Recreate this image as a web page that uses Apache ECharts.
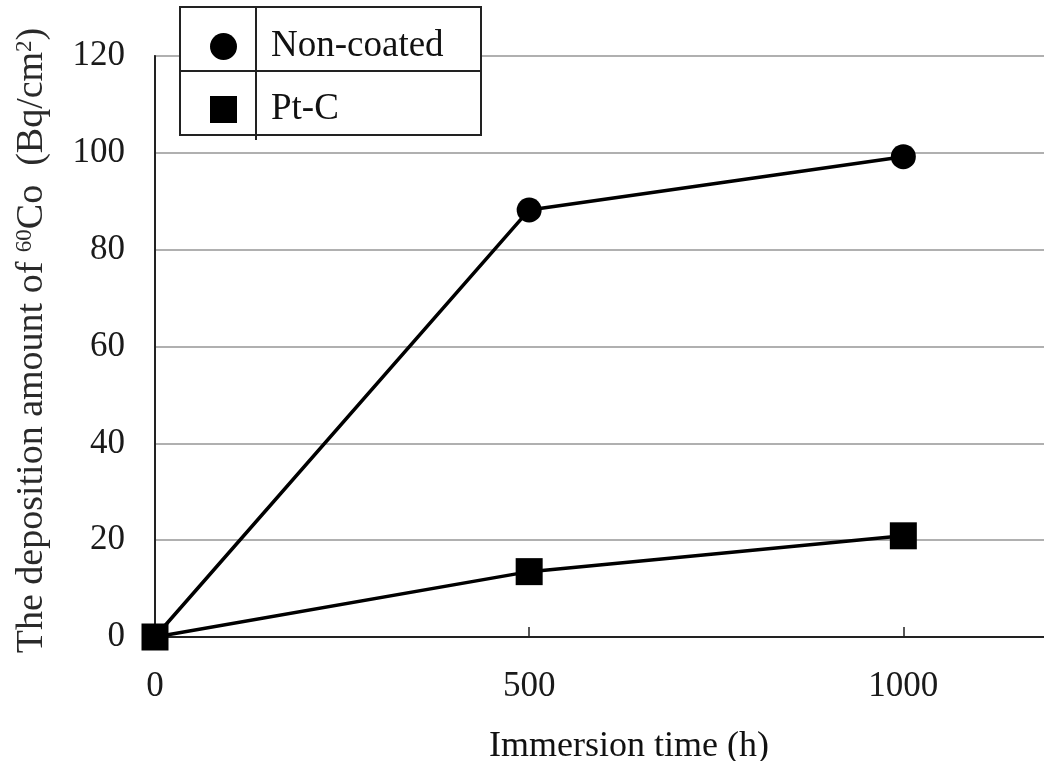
<!DOCTYPE html>
<html>
<head>
<meta charset="utf-8">
<script src="https://cdn.jsdelivr.net/npm/echarts@6/dist/echarts.min.js"></script>
<style>html,body{margin:0;padding:0;background:#fff}#c{width:1044px;height:761px}</style>
</head>
<body>
<div id="c"></div>
<script>
const times = [0, 500, 1000];
const nonCoated = [0, 88.2, 99.2];
const ptC = [0, 13.5, 20.9];
const seriesNames = ['Non-coated', 'Pt-C'];
const xTitle = 'Immersion time (h)';
const yTitle = 'The deposition amount of {sup|60}Co  (Bq/cm{sup|2})';

const font = '"Liberation Serif", "Times New Roman", serif';
const chart = echarts.init(document.getElementById('c'));
const pair = (xs, ys) => xs.map((x, i) => [x, ys[i]]);

chart.setOption({
  animation: false,
  backgroundColor: '#fff',
  grid: { left: 155, top: 56, width: 898, height: 581, show: true, borderColor: '#222', borderWidth: 1.5,
          backgroundColor: 'transparent', containLabel: false, outerBoundsMode: 'none' },
  legend: {
    left: 205, top: 23, orient: 'vertical', itemWidth: 27, itemHeight: 27, itemGap: 26,
    data: [{ name: seriesNames[0], icon: 'circle' }, { name: seriesNames[1], icon: 'rect' }],
    textStyle: { fontFamily: font, fontSize: 37, color: '#111', padding: [0, 0, 0, 29] },
    itemStyle: { color: '#000' }, z: 20
  },
  xAxis: {
    type: 'value', min: 0, max: 1200, interval: 500,
    name: xTitle, nameLocation: 'middle', nameGap: 92,
    nameTextStyle: { fontFamily: font, fontSize: 36, color: '#111', padding: [0, 0, 0, 50] },
    axisLine: { show: true, lineStyle: { color: '#222', width: 2 } },
    axisTick: { show: true, inside: true, length: 10, lineStyle: { color: '#222', width: 1.5 } },
    axisLabel: { fontFamily: font, fontSize: 35, color: '#1a1a1a', margin: 32, showMaxLabel: false,
                 formatter: v => String(v) },
    splitLine: { show: false }
  },
  yAxis: {
    type: 'value', min: 0, max: 120, interval: 20,
    name: yTitle, nameLocation: 'middle', nameGap: 103, nameRotate: 90,
    nameTextStyle: { fontFamily: font, fontSize: 38, color: '#2a2a2a', padding: [0, 0, 0, 12],
      rich: { sup: { fontFamily: font, fontSize: 23, color: '#2a2a2a', padding: [0, 0, 16, 0] } } },
    axisLine: { show: true, lineStyle: { color: '#222', width: 2 } },
    axisTick: { show: false },
    axisLabel: { fontFamily: font, fontSize: 35, color: '#1a1a1a', margin: 30 },
    splitLine: { show: true, lineStyle: { color: '#b0b0b0', width: 2 } }
  },
  graphic: [
    { type: 'rect', shape: { x: 180, y: 7, width: 301, height: 128 }, style: { fill: '#fff', stroke: '#222', lineWidth: 2 }, z: 10 },
    { type: 'line', shape: { x1: 256, y1: 7, x2: 256, y2: 140 }, style: { stroke: '#222', lineWidth: 2 }, z: 11 },
    { type: 'line', shape: { x1: 180, y1: 71, x2: 481, y2: 71 }, style: { stroke: '#222', lineWidth: 2 }, z: 11 }
  ],
  series: [
    { name: seriesNames[0], type: 'line', data: pair(times, nonCoated), symbol: 'circle', symbolSize: 25,
      lineStyle: { color: '#000', width: 3.5 }, itemStyle: { color: '#000' }, z: 5 },
    { name: seriesNames[1], type: 'line', data: pair(times, ptC), symbol: 'rect', symbolSize: 27,
      lineStyle: { color: '#000', width: 3.5 }, itemStyle: { color: '#000' }, z: 6 }
  ]
});
</script>
</body>
</html>
